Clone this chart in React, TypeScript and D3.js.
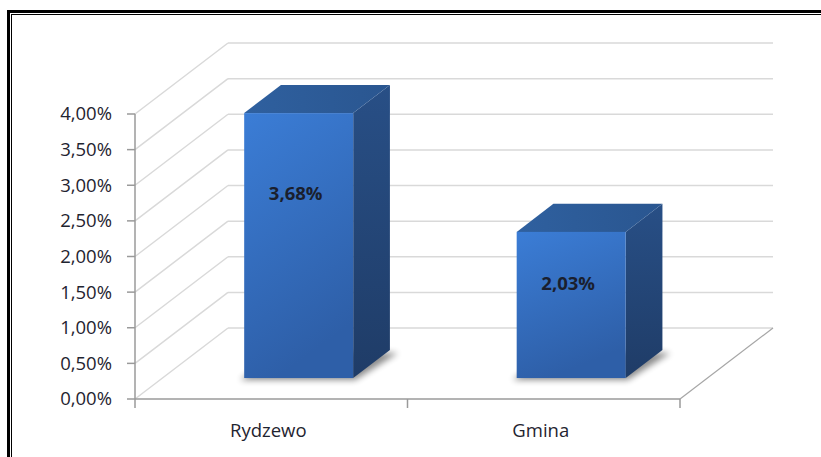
import { useEffect } from 'react';
import * as d3 from 'd3';

const categories = ['Rydzewo', 'Gmina'];
const values = [0.0368, 0.0203];
const valueLabels = ['3,68%', '2,03%'];
const yTicks = [0, 0.005, 0.01, 0.015, 0.02, 0.025, 0.03, 0.035, 0.04];

const W = 821;
const H = 457;
// front plane of the 3D box
const FRONT = { left: 135, right: 680, bottom: 399, top: 114 };
// depth vector from front plane to back wall
const DEPTH = { dx: 93, dy: -71 };
const BAR_FRONT = 0.295;
const BAR_BACK = 0.69;

const FONT = '"Open Sans", "Noto Sans", sans-serif';
const fmt = (v: number) => (v * 100).toFixed(2).replace('.', ',') + '%';

export default function App() {
  useEffect(() => {
    document.body.style.margin = '0';
  }, []);

  const y = d3.scaleLinear().domain([0, 0.04]).range([FRONT.bottom, FRONT.top]);
  const x = d3.scaleBand<string>().domain(categories).range([FRONT.left, FRONT.right])
    .paddingInner(0.6).paddingOuter(0.3);
  const xEdges = [FRONT.left, (FRONT.left + FRONT.right) / 2, FRONT.right];

  const fdx = DEPTH.dx * BAR_FRONT, fdy = DEPTH.dy * BAR_FRONT;
  const bdx = DEPTH.dx * BAR_BACK, bdy = DEPTH.dy * BAR_BACK;
  // bars sit a bit nearer the viewer's eye, so their value scale is slightly larger (perspective)
  const yBar = d3.scaleLinear().domain([0, 0.04]).range([FRONT.bottom + fdy, FRONT.bottom + fdy - 288]);
  const pts = (p: [number, number][]) => p.map(q => q.join(',')).join(' ');

  return (
    <div style={{ position: 'relative', width: W, height: H, overflow: 'hidden' }}>
      <svg width={W} height={H} style={{ display: 'block', background: '#fff' }}>
        <defs>
          <linearGradient id="front" x1="0" y1="0" x2="0.3" y2="1">
            <stop offset="0%" stopColor="#3b7dd6" />
            <stop offset="100%" stopColor="#2e5fa8" />
          </linearGradient>
          <linearGradient id="side" x1="0" y1="0" x2="0" y2="1">
            <stop offset="0%" stopColor="#284f86" />
            <stop offset="100%" stopColor="#1f3c67" />
          </linearGradient>
          <linearGradient id="topf" x1="0" y1="0" x2="1" y2="0">
            <stop offset="0%" stopColor="#2f609f" />
            <stop offset="100%" stopColor="#2a5690" />
          </linearGradient>
          <filter id="blur" x="-20%" y="-20%" width="140%" height="140%">
            <feGaussianBlur stdDeviation="3" />
          </filter>
          <filter id="soft">
            <feGaussianBlur stdDeviation="0.5" />
          </filter>
        </defs>

        {/* outer double border */}
        <rect x={8.5} y={11.5} width={W + 20} height={H + 20} fill="none" stroke="#000" strokeWidth={3} />
        <rect x={11.5} y={14.5} width={W + 20} height={H + 20} fill="none" stroke="#000" strokeWidth={1} />

        {/* back wall + side wall grid */}
        <g stroke="#d9d9d9" strokeWidth={1.5} fill="none" filter="url(#soft)">
          {yTicks.map(t => (
            <g key={t}>
              <line x1={FRONT.left + DEPTH.dx} x2={FRONT.right + DEPTH.dx} y1={y(t) + DEPTH.dy} y2={y(t) + DEPTH.dy} />
              <line x1={FRONT.left} x2={FRONT.left + DEPTH.dx} y1={y(t)} y2={y(t) + DEPTH.dy} />
            </g>
          ))}
          {/* floor right edge */}
          <line x1={FRONT.right} y1={y(0)} x2={FRONT.right + DEPTH.dx} y2={y(0) + DEPTH.dy} stroke="#a6a6a6" strokeWidth={1.2} />
        </g>

        {/* bars */}
        {categories.map((c, i) => {
          const v = values[i];
          const x0 = x(c)! + fdx;
          const x1 = x0 + x.bandwidth();
          const yb = yBar(0);
          const yt = yBar(v);
          const h = yb - yt;
          const ddx = bdx - fdx, ddy = bdy - fdy;
          const cx = (x0 + x1) / 2;
          const ly = yt + 17.7 + 0.235 * h;
          return (
            <g key={c}>
              <polygon
                points={pts([[x0 - 4, yb + 2], [x1 + 2, yb + 2], [x1 + ddx + 8, yb + ddy + 3], [x0 + ddx, yb + ddy]])}
                fill="#000" opacity={0.45} filter="url(#blur)"
              />
              <polygon points={pts([[x1, yt], [x1 + ddx, yt + ddy], [x1 + ddx, yb + ddy], [x1, yb]])} fill="url(#side)" />
              <polygon points={pts([[x0, yt], [x0 + ddx, yt + ddy], [x1 + ddx, yt + ddy], [x1, yt]])} fill="url(#topf)" />
              <rect x={x0} y={yt} width={x1 - x0} height={h} fill="url(#front)" />
              <text x={cx - 3} y={ly} dy="0.35em" textAnchor="middle" fontFamily={FONT} fontWeight={700}
                fontSize={18.5} fill="#1a1f2e">{valueLabels[i]}</text>
            </g>
          );
        })}

        {/* front axes */}
        <g stroke="#9a9a9a" strokeWidth={1.5} fill="none">
          <line x1={FRONT.left} x2={FRONT.left} y1={y(0.04)} y2={y(0)} />
          <line x1={FRONT.left} x2={FRONT.right} y1={y(0)} y2={y(0)} />
          {yTicks.map(t => (
            <line key={t} x1={FRONT.left - 8} x2={FRONT.left} y1={y(t)} y2={y(t)} />
          ))}
          {xEdges.map(e => (
            <line key={e} x1={e} x2={e} y1={y(0)} y2={y(0) + 9} />
          ))}
        </g>
        <g fontFamily={FONT} fontSize={18.5} fill="#1f2430">
          {yTicks.map(t => (
            <text key={t} x={FRONT.left - 23} y={y(t)} dy="0.35em" textAnchor="end">{fmt(t)}</text>
          ))}
          {categories.map(c => (
            <text key={c} x={x(c)! + x.bandwidth() / 2 - 3} y={437} textAnchor="middle">{c}</text>
          ))}
        </g>
      </svg>
    </div>
  );
}
